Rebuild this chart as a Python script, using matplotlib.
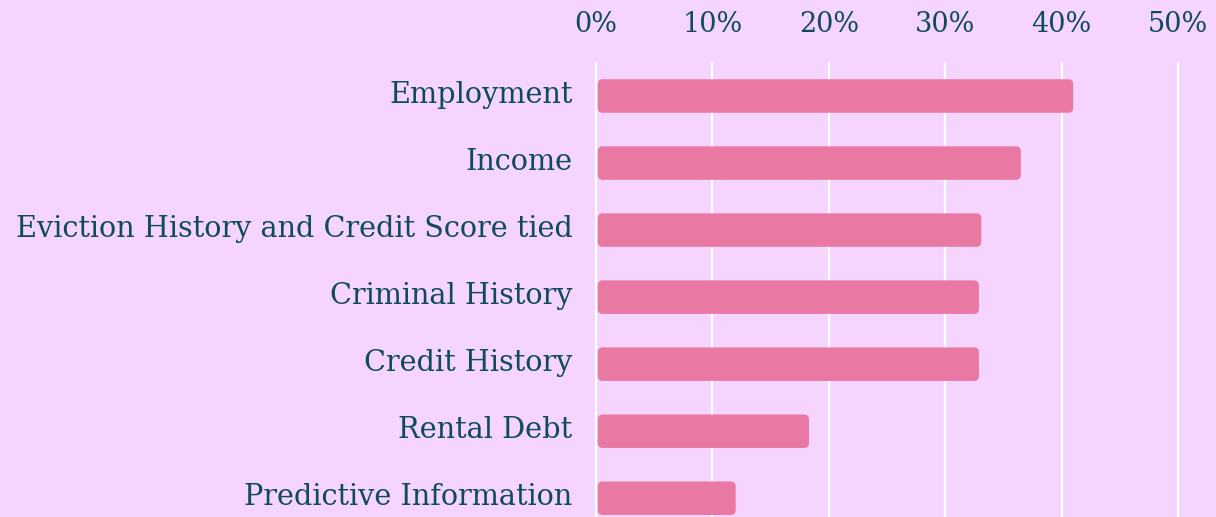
import matplotlib
matplotlib.use("Agg")
import matplotlib.pyplot as plt
from matplotlib.patches import FancyBboxPatch
from matplotlib.transforms import ScaledTranslation

categories = ["Employment", "Income", "Eviction History and Credit Score tied",
              "Criminal History", "Credit History", "Rental Debt", "Predictive Information"]
values = [41.0, 36.5, 33.1, 32.9, 32.9, 18.3, 12.0]
ticks = [0, 10, 20, 30, 40, 50]
tick_labels = ["0%", "10%", "20%", "30%", "40%", "50%"]

BG = "#f5d5fe"
BAR = "#e979a2"
TXT = "#0f4a5e"

W, H = 1216, 517
fig = plt.figure(figsize=(W / 100, H / 100), dpi=100, facecolor=BG)
left, right, top = 596, 1178, 62.5
ax = fig.add_axes([left / W, 0, (right - left) / W, (H - top) / H])
ax.set_facecolor(BG)
ax.set_xlim(0, 50)
ax.set_ylim(6.28, -0.5)

for x in ticks:
    ax.axvline(x, color="white", lw=1.6, zorder=1, clip_on=False)

px_x = (right - left) / 50.0
px_y = (H - top) / 6.78
bh = 0.5
for i, v in enumerate(values):
    p = FancyBboxPatch((0.15, i - bh / 2), v - 0.15, bh,
                       boxstyle="round,pad=0,rounding_size=%f" % (5 / px_x),
                       mutation_aspect=px_x / px_y,
                       facecolor=BAR, edgecolor="none", zorder=2)
    ax.add_patch(p)

for s in ax.spines.values():
    s.set_visible(False)
ax.xaxis.tick_top()
ax.set_xticks(ticks)
ax.set_xticklabels(tick_labels, fontsize=19.5, color=TXT, family="DejaVu Serif")
ax.tick_params(axis="x", length=0, pad=17.5)
ax.set_yticks(range(len(categories)))
ax.set_yticklabels(categories, fontsize=20.7, color=TXT, family="DejaVu Serif")
ax.tick_params(axis="y", length=0, pad=17)
shift = ScaledTranslation(0, 4 / 100, fig.dpi_scale_trans)
for lab in ax.get_yticklabels():
    lab.set_transform(lab.get_transform() + shift)

fig.savefig("out.png", dpi=100, facecolor=BG)
